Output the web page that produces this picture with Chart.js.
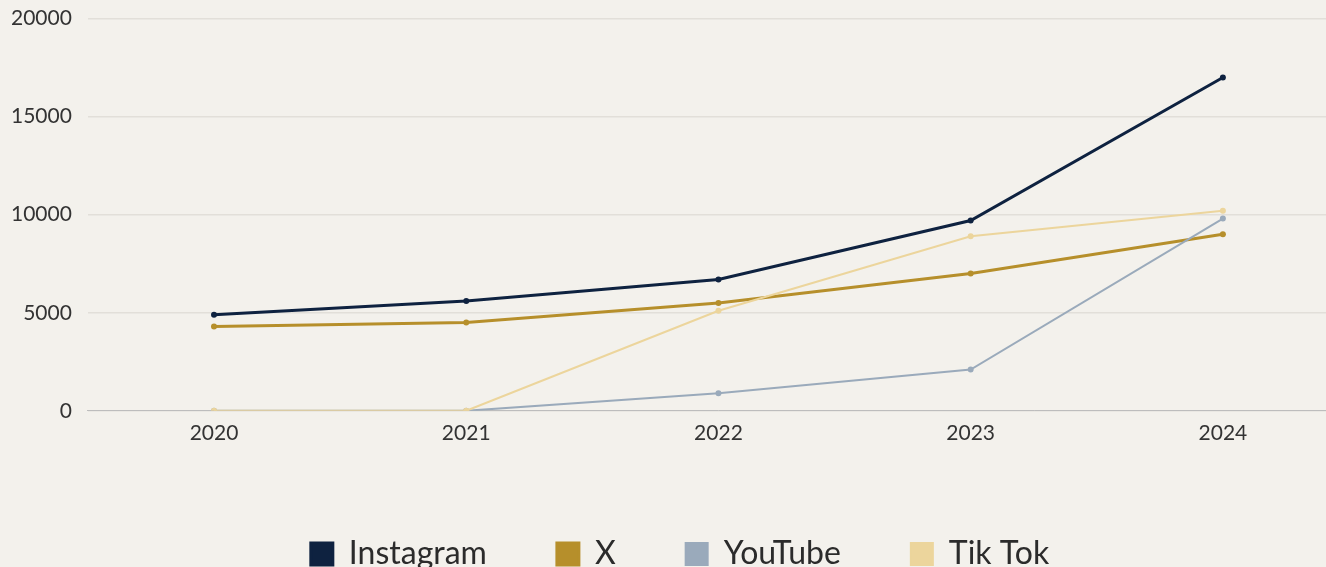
<!DOCTYPE html>
<html>
<head>
<meta charset="utf-8">
<script src="https://cdn.jsdelivr.net/npm/chart.js@4.4.1/dist/chart.umd.min.js"></script>
<style>
  html, body { margin: 0; padding: 0; background: #f3f1ec; overflow: hidden; width: 1326px; height: 567px; }
  #wrap { position: absolute; left: 0; top: -10px; width: 1352px; height: 590px; }
</style>
</head>
<body>
<div id="wrap"><canvas id="c" width="1352" height="590"></canvas></div>
<script>
const categories = ['2020', '2021', '2022', '2023', '2024'];
const instagram = [4900, 5600, 6700, 9700, 17000];
const xSeries = [4300, 4500, 5500, 7000, 9000];
const youtube = [0, 0, 900, 2100, 9800];
const tiktok = [0, 0, 5100, 8900, 10200];
const yTicks = [0, 5000, 10000, 15000, 20000];
const yTickLabels = ['0', '5000', '10000', '15000', '20000'];

const ds = (label, data, color, w) => ({
  label, data, borderColor: color, backgroundColor: color,
  borderWidth: w, pointRadius: 3, pointHoverRadius: 3,
  pointBackgroundColor: color, pointBorderWidth: 0, tension: 0
});

new Chart(document.getElementById('c'), {
  type: 'line',
  data: {
    labels: categories,
    datasets: [
      ds('Tik Tok', tiktok, '#ecd59c', 2),
      ds('YouTube', youtube, '#9aaabb', 2),
      ds('X', xSeries, '#b68f2b', 3),
      ds('Instagram', instagram, '#0e2240', 3)
    ]
  },
  options: {
    responsive: false,
    animation: false,
    devicePixelRatio: 1,
    layout: { padding: { top: 6, left: 8, right: 0, bottom: 0 } },
    plugins: {
      tooltip: { enabled: false },
      legend: {
        position: 'bottom',
        reverse: true,
        labels: {
          color: '#2b2b2b',
          font: { family: 'Lato', size: 32 },
          boxWidth: 22, boxHeight: 22,
          padding: 70,
          useBorderRadius: false
        }
      }
    },
    scales: {
      x: {
        offset: true,
        grid: { display: false, drawTicks: false },
        border: { display: true, color: '#bdbdbd', width: 1 },
        ticks: { color: '#333', font: { family: 'Lato', size: 21 }, padding: 10 },
        afterFit: (axis) => { axis.height += 12; }
      },
      y: {
        min: 0, max: 20000,
        afterBuildTicks: (axis) => { axis.ticks = yTicks.map(v => ({ value: v })); },
        afterFit: (axis) => { axis.width -= 13; },
        grid: { color: '#e2dfd9', lineWidth: 1.5, drawTicks: false },
        border: { display: false },
        ticks: {
          color: '#333', font: { family: 'Lato', size: 21 }, padding: 16,
          callback: (v) => yTickLabels[yTicks.indexOf(v)]
        }
      }
    }
  }
});
</script>
</body>
</html>
